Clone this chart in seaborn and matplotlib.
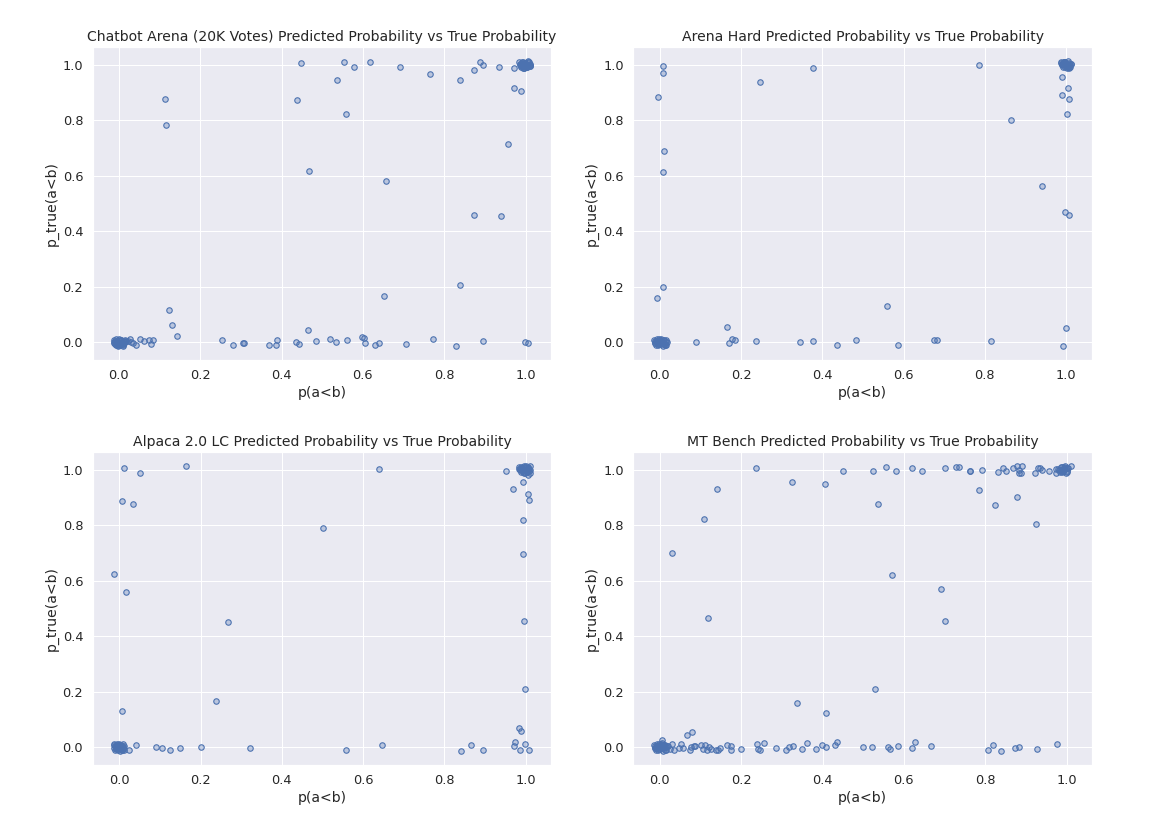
import matplotlib
matplotlib.use("Agg")
import matplotlib.pyplot as plt
import seaborn as sns

# --- DATA ---
TITLES = [
    "Chatbot Arena (20K Votes) Predicted Probability vs True Probability",
    "Arena Hard Predicted Probability vs True Probability",
    "Alpaca 2.0 LC Predicted Probability vs True Probability",
    "MT Bench Predicted Probability vs True Probability",
]

# Chatbot Arena
arena_x = [0.114, 0.117, 0.449, 0.553, 0.577, 0.618, 0.536, 0.438, 0.558, 0.692,
           0.766, 0.839, 0.874, 0.888, 0.895, 0.934, 0.972, 0.971, 0.989, 0.958,
           0.468, 0.656, 0.873, 0.939, 0.840, 0.653, 0.123, 0.131, 0.142, 0.464,
           0.253, 0.281, 0.305, 0.308, 0.369, 0.387, 0.389, 0.436, 0.442, 0.485,
           0.519, 0.534, 0.561, 0.597, 0.604, 0.606, 0.630, 0.640, 0.707, 0.773,
           0.830, 0.895, 0.998, 1.006,
           0.027, 0.031, 0.035, 0.042, 0.051, 0.062, 0.074, 0.083, 0.080, 0.022,
           -0.012, -0.008, -0.004, 0.000, 0.004, 0.008, 0.012, -0.010, -0.006, -0.002,
           0.002, 0.006, 0.010, 0.014, -0.011, -0.005, 0.001, 0.007, 0.013, 0.018,
           -0.013, -0.007, -0.001, 0.005, 0.011, 0.016, -0.009, -0.003, 0.003, 0.009,
           0.985, 0.989, 0.993, 0.997, 1.001, 1.005, 1.009, 1.012, 0.987, 0.991,
           0.995, 0.999, 1.003, 1.007, 1.011, 0.988, 0.996, 1.004, 1.010, 0.992,
           0.986, 0.990, 0.994, 0.998, 1.002, 1.006, 1.010, 0.989, 0.997, 1.005]
arena_y = [0.876, 0.782, 1.005, 1.011, 0.990, 1.011, 0.944, 0.873, 0.821, 0.992,
           0.968, 0.944, 0.982, 1.011, 1.000, 0.990, 0.988, 0.917, 0.905, 0.714,
           0.617, 0.580, 0.460, 0.456, 0.206, 0.167, 0.118, 0.061, 0.024, 0.046,
           0.008, -0.011, -0.001, -0.001, -0.010, -0.010, 0.010, 0.001, -0.005, 0.004,
           0.012, 0.002, 0.008, 0.019, 0.015, -0.002, -0.010, -0.002, -0.005, 0.011,
           -0.012, 0.006, 0.002, -0.001,
           0.012, 0.002, -0.001, -0.011, 0.012, 0.005, 0.010, 0.010, -0.006, 0.004,
           0.010, -0.008, 0.004, -0.011, 0.009, -0.003, 0.006, -0.004, 0.011, 0.002,
           -0.009, 0.007, -0.012, 0.001, 0.003, -0.010, 0.012, -0.006, -0.002, 0.005,
           -0.002, 0.001, -0.006, 0.003, -0.009, 0.008, 0.005, -0.012, 0.007, -0.004,
           1.008, 0.992, 1.011, 0.989, 1.004, 0.996, 1.010, 0.998, 1.001, 1.009,
           0.987, 1.006, 0.993, 1.012, 1.002, 0.995, 1.003, 0.990, 0.994, 1.007,
           0.997, 1.003, 1.000, 1.006, 0.991, 1.010, 0.995, 1.004, 0.988, 0.999]

# Arena Hard
hard_x = [0.007, 0.007, -0.005, 0.009, 0.007, 0.008, -0.007, 0.090, 0.166, 0.171,
          0.177, 0.184, 0.237, 0.247, 0.344, 0.376, 0.376, 0.436, 0.484, 0.558,
          0.587, 0.675, 0.682, 0.786, 0.816, 0.864, 0.941, 0.990, 1.005, 0.990,
          1.006, 1.003, 0.998, 1.007, 1.000, 0.993,
          -0.014, -0.010, -0.006, -0.002, 0.002, 0.006, 0.010, 0.014, 0.018, -0.012,
          -0.008, -0.004, 0.000, 0.004, 0.008, 0.012, 0.016, -0.013, -0.003, 0.007,
          -0.011, -0.007, -0.001, 0.005, 0.011, 0.015, -0.009, 0.001, 0.009, 0.013,
          0.988, 0.992, 0.996, 1.000, 1.004, 1.008, 1.012, 0.990, 0.994, 0.998,
          1.002, 1.006, 1.010, 0.989, 0.997, 1.005, 1.011, 0.993, 1.001, 1.009,
          0.991, 0.995, 0.999, 1.003, 1.007, 0.987, 0.996, 1.004, 1.008, 0.992]
hard_y = [0.994, 0.970, 0.883, 0.690, 0.615, 0.200, 0.161, 0.001, 0.057, -0.002,
          0.011, 0.010, 0.004, 0.938, 0.002, 0.004, 0.989, -0.010, 0.007, 0.132,
          -0.011, 0.007, 0.007, 1.000, 0.006, 0.802, 0.564, 0.956, 0.917, 0.889,
          0.877, 0.824, 0.470, 0.458, 0.052, -0.012,
          0.008, -0.010, 0.004, -0.006, 0.011, -0.002, 0.009, -0.008, 0.003, -0.001,
          0.012, -0.011, 0.006, -0.004, 0.010, -0.009, 0.001, 0.005, 0.013, -0.012,
          -0.003, 0.002, -0.007, 0.000, -0.005, 0.007, 0.006, 0.009, -0.002, -0.010,
          1.009, 0.991, 1.005, 0.995, 1.012, 0.988, 1.002, 1.000, 1.010, 0.993,
          0.997, 1.007, 0.990, 1.004, 1.011, 0.996, 1.001, 1.006, 0.989, 0.998,
          1.003, 1.008, 0.994, 0.999, 0.992, 1.006, 1.010, 0.990, 1.001, 1.004]

# Alpaca 2.0 LC
alpaca_x = [0.011, 0.052, 0.164, 0.006, 0.033, -0.012, 0.016, 0.502, 0.267, 0.238,
            0.006, 0.640, 0.024, 0.041, 0.091, 0.104, 0.125, 0.150, 0.202, 0.321,
            0.557, 0.647, 0.842, 0.866, 0.895, 0.952, 0.970, 0.993, 1.007, 1.008,
            0.993, 0.993, 0.996, 0.999, 0.984, 0.990, 0.973, 0.972, 0.998, 0.987,
            1.009, 1.007,
            -0.014, -0.010, -0.006, -0.002, 0.002, 0.006, 0.010, -0.012, -0.008, -0.004,
            0.000, 0.004, 0.008, 0.012, -0.013, -0.005, 0.003, 0.009, -0.009, 0.001,
            -0.011, -0.007, -0.003, 0.005, 0.011, -0.001, 0.007, -0.006, 0.002, 0.010,
            0.984, 0.988, 0.992, 0.996, 1.000, 1.004, 1.008, 1.012, 0.986, 0.990,
            0.994, 0.998, 1.002, 1.006, 1.010, 0.991, 0.999, 1.007, 0.995, 1.003,
            0.985, 0.989, 0.993, 0.997, 1.001, 1.005, 1.009, 0.987, 0.996, 1.011]
alpaca_y = [1.005, 0.988, 1.011, 0.888, 0.875, 0.624, 0.560, 0.789, 0.452, 0.167,
            0.129, 1.001, -0.010, 0.008, 0.001, -0.002, -0.008, -0.002, 0.002, -0.002,
            -0.010, 0.007, -0.012, 0.010, -0.008, 0.994, 0.930, 0.956, 0.912, 0.891,
            0.818, 0.697, 0.456, 0.209, 0.069, 0.057, 0.020, 0.005, 0.011, -0.011,
            -0.010, 0.981,
            0.007, -0.009, 0.011, -0.004, 0.009, -0.011, 0.013, -0.002, 0.004, -0.010,
            0.010, -0.006, 0.002, -0.008, 0.012, 0.006, -0.012, 0.000, -0.005, 0.008,
            0.003, -0.001, -0.007, 0.010, 0.005, 0.012, -0.009, 0.001, -0.003, -0.006,
            1.010, 0.992, 1.006, 0.988, 1.011, 0.996, 1.003, 1.012, 1.000, 1.008,
            0.990, 1.004, 0.994, 1.009, 0.999, 1.002, 0.986, 1.006, 0.997, 0.991,
            1.001, 1.005, 0.998, 1.010, 0.993, 1.007, 0.995, 1.003, 1.011, 0.989]

# MT Bench
mt_x = [0.237, 0.450, 0.524, 0.557, 0.581, 0.620, 0.645, 0.700, 0.729, 0.735,
        0.762, 0.763, 0.793, 0.832, 0.845, 0.851, 0.869, 0.878, 0.884, 0.891,
        0.884, 0.887, 0.922, 0.931, 0.935, 0.939, 0.958, 0.974, 0.974, 1.011,
        0.140, 0.324, 0.405, 0.109, 0.537, 0.785, 0.878, 0.824, 0.924, 0.029,
        0.570, 0.691, 0.118, 0.700, 0.530, 0.338, 0.409, 0.066, 0.078,
        0.006, 0.029, 0.051, 0.057, 0.046, 0.035, 0.024, 0.074, 0.076, 0.083,
        0.086, 0.101, 0.107, 0.111, 0.116, 0.122, 0.126, 0.138, 0.143, 0.148,
        0.165, 0.175, 0.175, 0.200, 0.240, 0.242, 0.247, 0.257, 0.286, 0.310,
        0.317, 0.327, 0.350, 0.362, 0.385, 0.398, 0.408, 0.431, 0.436, 0.499,
        0.522, 0.562, 0.566, 0.585, 0.620, 0.628, 0.667, 0.807, 0.820, 0.839,
        0.873, 0.882, 0.927, 0.976,
        -0.014, -0.010, -0.006, -0.002, 0.002, 0.006, 0.010, 0.014, 0.018, -0.012,
        -0.008, -0.004, 0.000, 0.004, 0.008, 0.012, 0.016, -0.013, -0.003, 0.007,
        0.011, 0.019, -0.009, 0.005, -0.011, -0.005, 0.001, 0.009, 0.013, -0.007,
        0.980, 0.984, 0.988, 0.992, 0.996, 1.000, 1.004, 0.982, 0.986, 0.990,
        0.994, 0.998, 1.002, 0.985, 0.993, 1.001, 0.989, 0.997, 0.991, 0.995]
mt_y = [1.005, 0.994, 0.993, 1.010, 0.995, 1.007, 0.996, 1.005, 1.008, 1.008,
        0.996, 0.994, 1.000, 0.990, 1.004, 0.994, 1.006, 1.012, 1.000, 1.012,
        0.989, 0.988, 0.989, 1.007, 1.007, 0.998, 0.994, 1.001, 0.988, 1.012,
        0.931, 0.956, 0.949, 0.823, 0.875, 0.928, 0.901, 0.873, 0.804, 0.701,
        0.620, 0.571, 0.465, 0.454, 0.210, 0.158, 0.122, 0.043, 0.054,
        0.025, 0.012, 0.012, -0.002, -0.002, -0.010, -0.006, -0.011, 0.001, 0.004,
        0.005, 0.007, -0.005, 0.007, -0.010, 0.001, -0.005, -0.011, -0.010, -0.002,
        0.007, 0.004, -0.011, -0.007, 0.012, -0.005, -0.010, 0.014, -0.001, -0.010,
        0.000, 0.006, -0.007, 0.017, -0.005, 0.007, 0.000, 0.008, 0.019, 0.001,
        0.002, 0.000, -0.007, 0.006, -0.001, 0.019, 0.004, -0.008, 0.010, -0.012,
        -0.004, 0.001, -0.006, 0.011,
        0.008, -0.010, 0.004, -0.006, 0.011, -0.002, 0.009, -0.008, 0.003, -0.001,
        0.012, -0.011, 0.006, -0.004, 0.010, -0.009, 0.001, 0.005, 0.013, -0.012,
        0.002, 0.006, -0.003, 0.015, -0.002, 0.003, -0.007, -0.004, 0.008, 0.000,
        1.002, 0.992, 1.008, 0.996, 1.011, 0.990, 1.005, 0.998, 1.010, 0.994,
        1.003, 0.989, 1.007, 1.000, 1.009, 0.995, 0.991, 1.006, 1.001, 0.997]

PANELS = [(arena_x, arena_y), (hard_x, hard_y), (alpaca_x, alpaca_y), (mt_x, mt_y)]

# --- PLOT ---
sns.set_theme(style="darkgrid", font_scale=1.17)
fig, axes = plt.subplots(2, 2, figsize=(1174 / 72, 826 / 72), dpi=72)
plt.subplots_adjust(left=0.079, right=0.930, top=0.943, bottom=0.074,
                    wspace=0.179, hspace=0.294)

for ax, title, (xs, ys) in zip(axes.flat, TITLES, PANELS):
    sns.scatterplot(x=xs, y=ys, ax=ax, s=30, color="#4c72b0",
                    edgecolor="#4c72b0", linewidth=1.1)
    ax.collections[0].set_facecolor((0.298, 0.447, 0.690, 0.3))
    ax.set_title(title)
    ax.set_xlabel("p(a<b)")
    ax.set_ylabel("p_true(a<b)")

plt.savefig("out.png", dpi=72)
